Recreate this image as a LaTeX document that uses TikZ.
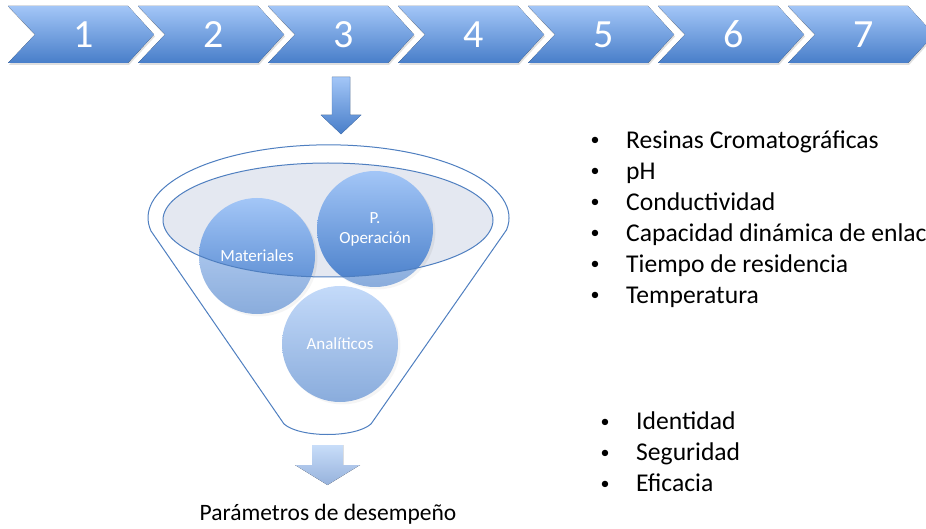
\documentclass[tikz,border=0pt]{standalone}
\usepackage{fontspec}
\setmainfont{Carlito}
\usepackage{tikz}
\usetikzlibrary{shadows,positioning}
\definecolor{chevtop}{RGB}{163,198,247}
\definecolor{chevbot}{RGB}{72,126,201}
\definecolor{paletop}{RGB}{200,221,249}
\definecolor{palebot}{RGB}{150,178,220}
\definecolor{rimline}{RGB}{79,127,192}
\definecolor{rimfill}{RGB}{228,232,241}

\begin{document}
\begin{tikzpicture} [x=1pt, y=-1pt,
  chevron/.style={top color=chevtop, bottom color=chevbot, drop shadow={opacity=0.25, shadow xshift=1pt, shadow yshift=-2pt}},
  stepnum/.style={text=white, inner sep=0pt, font=\fontsize{40}{40}\selectfont},
  ball/.style={circle, minimum size=116pt, inner sep=0pt, top color=chevtop, bottom color=chevbot},
  balltext/.style={text=white, align=center, font=\fontsize{17}{20}\selectfont},
  rim/.style={draw=rimline, line width=1pt},
  dot/.style={anchor=base, inner sep=0pt, font=\fontsize{18}{31}\selectfont},
  itemtext/.style={anchor=base west, inner sep=0pt, font=\fontsize{25.6}{31}\selectfont}]

\useasboundingbox (0,0) rectangle (926,529);

\foreach \k in {1,...,7} {
  \pgfmathsetmacro\cx{8+130*(\k-1)}
  \fill [chevron] (\cx,6) -- ++(120,0) -- ++(26,28.5) -- ++(-26,28.5) -- ++(-120,0) -- ++(27,-28.5) -- cycle;
  \node [stepnum] (s\k) at (\cx+76,34.5) {\k};
}

\fill [top color=chevtop, bottom color=chevbot][draw=rimline, line width=0.4pt] (332,77) -- (350,77) -- (350,115) -- (361,115) -- (341,134) -- (321,115) -- (332,115) -- cycle;

\fill [rimfill] (328,220) ellipse [x radius=165, y radius=57];

\node [ball, drop shadow={opacity=0.12}] (mat) at (257,256) {};
\node [ball, drop shadow={opacity=0.12}] (ope) at (375,229) {};
\node [ball, drop shadow={opacity=0.12}] (ana) at (340,344) {};

% glass body of the funnel
\fill [white, fill opacity=0.36, even odd rule] (151,231) arc [start angle=169.6, end angle=369.5, x radius=180.5, y radius=73] -- (371,424) .. controls (355,438) and (300,438) .. (284,424) -- cycle (328,220) ellipse [x radius=165, y radius=57];
\draw [rim] (151,231) arc [start angle=169.6, end angle=369.5, x radius=180.5, y radius=73] -- (371,424) .. controls (355,438) and (300,438) .. (284,424) -- cycle;
\draw [rim] (328,220) ellipse [x radius=165, y radius=57];

\node [balltext] (tmat) at (mat.center) {Materiales};
\node [balltext] (tope) at (ope.center) {P.\\Operación};
\node [balltext] (tana) at (ana.center) {Analíticos};

\fill [top color=paletop, bottom color=palebot] (312,445) -- (343,445) -- (343,465) -- (360,465) -- (327.5,485) -- (295,465) -- (312,465) -- cycle;
\node [anchor=base, inner sep=0pt, font=\fontsize{23.5}{28}\selectfont] (out) at (328,520) {Parámetros de desempeño};

\foreach \t [count=\i] in {Resinas Cromatográficas, pH, Conductividad, Capacidad dinámica de enlac, Tiempo de residencia, Temperatura} {
  \node [dot] (b\i) at (595,146+31*\i-31) {\textbullet};
  \node [itemtext] (r\i) at (626,148.5+31*\i-31) {\t};
}

\foreach \t [count=\i] in {Identidad, Seguridad, Eficacia} {
  \node [dot] (c\i) at (605,427+31*\i-31) {\textbullet};
  \node [itemtext] (q\i) at (636,429.5+31*\i-31) {\t};
}

\end{tikzpicture}
\end{document}
